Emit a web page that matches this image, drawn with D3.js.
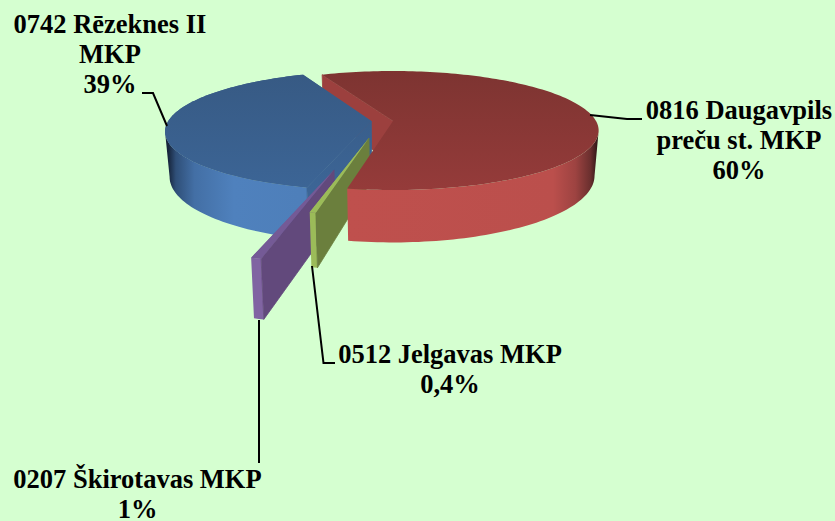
<!DOCTYPE html>
<html>
<head>
<meta charset="utf-8">
<script src="https://cdn.jsdelivr.net/npm/d3@7"></script>
<style>
body { margin: 0; background: #d5ffd0; }
text { font-family: "Liberation Serif", serif; font-weight: bold; font-size: 26.5px; fill: #000; text-anchor: middle; }
</style>
</head>
<body>
<div class="chart"></div>
<script>
// slices in drawing order round the pie, clockwise
const names = ['0816 Daugavpils', '0512 Jelgavas MKP', '0207 Škirotavas MKP', '0742 Rēzeknes II'];
const values = [59.6, 0.4, 0.6, 39.4];
const valueLabels = ['60%', '0,4%', '1%', '39%'];

const width = 835;
const height = 521;
const cx = 393, cy = 121, rx = 203, ry = 58;
const persp = 0.16;   // depth foreshortening
const depth = 44;     // extrusion of the disc
const shrink = 0.98;  // bottom rim is a little further from camera

// how far each slice is pulled out, in disc units
const pullX = [0, -0.113, -0.256, -0.107];
const pullY = [0, -0.28, -0.744, 0];

const fills = [
    {top: 'url(#redTop)', side: 'url(#redSide)', wall: '#9c403e'},
    {top: '#9bbb59', side: '#9bbb59', wall: '#6b7f3d'},
    {top: '#745a96', side: '#8064a2', wall: '#62497c'},
    {top: 'url(#blueTop)', side: 'url(#blueSide)', wall: 'url(#blueTop)'}
];

let svg = d3.select('.chart')
    .append('svg')
    .attr('width', width)
    .attr('height', height)
    .style('display', 'block');

function addGradient(id, x1, y1, x2, y2, stops) {
    let g = svg.append('defs').append('linearGradient')
        .attr('id', id)
        .attr('gradientUnits', 'userSpaceOnUse')
        .attr('x1', x1).attr('y1', y1).attr('x2', x2).attr('y2', y2);
    stops.forEach(s => g.append('stop').attr('offset', s[0]).attr('stop-color', s[1]));
}
addGradient('redTop', 0, 70, 0, 190, [[0, '#7d3431'], [1, '#953b3a']]);
addGradient('blueTop', 0, 75, 0, 190, [[0, '#375a84'], [1, '#3c6596']]);
addGradient('redSide', 348, 0, 598, 0, [[0, '#bf504d'], [0.82, '#bb4f4c'], [0.91, '#9d4341'], [0.97, '#6a2f2e'], [1, '#2c1716']]);
addGradient('blueSide', 168, 0, 300, 0, [[0, '#16243a'], [0.06, '#2f4f78'], [0.2, '#436fa5'], [0.5, '#4f81bd'], [1, '#4e7fba']]);

// disc coordinates -> screen, top rim
function topPt(X, Y) {
    let s = 1 / (1 + persp * Y);
    return [cx + rx * X * s, cy - ry * Y * s];
}
// same point on the bottom rim
function bottomPt(X, Y) {
    let s = 1 / (1 + persp * Y);
    return [cx + rx * X * s * shrink, cy - ry * Y * s + depth * s];
}

let pieData = d3.pie().sort(null).startAngle(-23.6 * Math.PI / 180).endAngle(336.4 * Math.PI / 180)(values);

let slices = pieData.map((d, i) => {
    let ox = pullX[i], oy = pullY[i];
    let n = Math.max(2, Math.ceil((d.endAngle - d.startAngle) * 40));
    let rim = d3.range(n + 1).map(k => {
        let a = d.startAngle + (d.endAngle - d.startAngle) * k / n;
        return [ox + Math.sin(a), oy + Math.cos(a)];
    });
    return {i: i, ox: ox, oy: oy, rim: rim, start: d.startAngle, end: d.endAngle};
});

let line = d3.line();
const camY = -1 / persp;

function drawWall(g, s, a, isStart) {
    let sign = isStart ? -1 : 1;
    let nx = sign * Math.cos(a), ny = -sign * Math.sin(a);
    // back facing walls are skipped
    if (nx * (0 - s.ox) + ny * (camY - s.oy) <= 0) return;
    let p = s.rim[isStart ? 0 : s.rim.length - 1];
    g.append('path')
        .attr('d', line([topPt(s.ox, s.oy), topPt(p[0], p[1]), bottomPt(p[0], p[1]), bottomPt(s.ox, s.oy)]) + 'Z')
        .attr('fill', fills[s.i].wall)
        .attr('stroke', fills[s.i].wall)
        .attr('stroke-width', 0.8);
}

function drawBody(g, s) {
    let f = fills[s.i];
    // only the stretch of rim that faces the camera gets a side
    let front = s.rim.filter(p => (p[0] - s.ox) * (0 - p[0]) + (p[1] - s.oy) * (camY - p[1]) > 0);
    g.append('path')
        .attr('d', line(front.map(p => topPt(p[0], p[1])).concat(front.slice().reverse().map(p => bottomPt(p[0], p[1])))) + 'Z')
        .attr('fill', f.side);
    g.append('path')
        .attr('d', line([topPt(s.ox, s.oy)].concat(s.rim.map(p => topPt(p[0], p[1])))) + 'Z')
        .attr('fill', f.top);
}

let pie = svg.append('g');
// red's walls go behind everything, its top and front go over the pulled out slices
drawWall(pie, slices[0], slices[0].start, true);
drawWall(pie, slices[0], slices[0].end, false);
[3, 2, 1].forEach(i => {
    drawBody(pie, slices[i]);
    drawWall(pie, slices[i], slices[i].start, true);
    drawWall(pie, slices[i], slices[i].end, false);
    // top again so the wall stroke does not eat into it
    pie.append('path')
        .attr('d', line([topPt(slices[i].ox, slices[i].oy)].concat(slices[i].rim.map(p => topPt(p[0], p[1])))) + 'Z')
        .attr('fill', fills[i].top);
});
drawBody(pie, slices[0]);

// leader lines
const leaders = [
    [[590, 115], [627, 119], [642, 119]],
    [[312, 266], [323.5, 363], [335, 363]],
    [[259, 320], [259, 463]],
    [[167, 126], [153, 93], [142, 93]]
];
svg.append('g')
    .selectAll('path')
    .data(leaders)
    .join('path')
    .attr('d', d => line(d))
    .attr('fill', 'none')
    .attr('stroke', '#000')
    .attr('stroke-width', 2);

// labels, one row per text line
const labelRows = [
    {x: 739, y: 119, lines: [names[0], 'preču st. MKP', valueLabels[0]]},
    {x: 450, y: 363, lines: [names[1], valueLabels[1]]},
    {x: 137.5, y: 488, lines: [names[2], valueLabels[2]]},
    {x: 110, y: 33, lines: [names[3], 'MKP', valueLabels[3]]}
];
svg.append('g')
    .selectAll('text')
    .data(labelRows)
    .join('text')
    .attr('x', d => d.x)
    .attr('y', d => d.y)
    .selectAll('tspan')
    .data(d => d.lines.map((t, k) => ({t: t, x: d.x, k: k})))
    .join('tspan')
    .attr('x', d => d.x)
    .attr('dy', d => d.k ? 30 : 0)
    .text(d => d.t);
</script>
</body>
</html>
